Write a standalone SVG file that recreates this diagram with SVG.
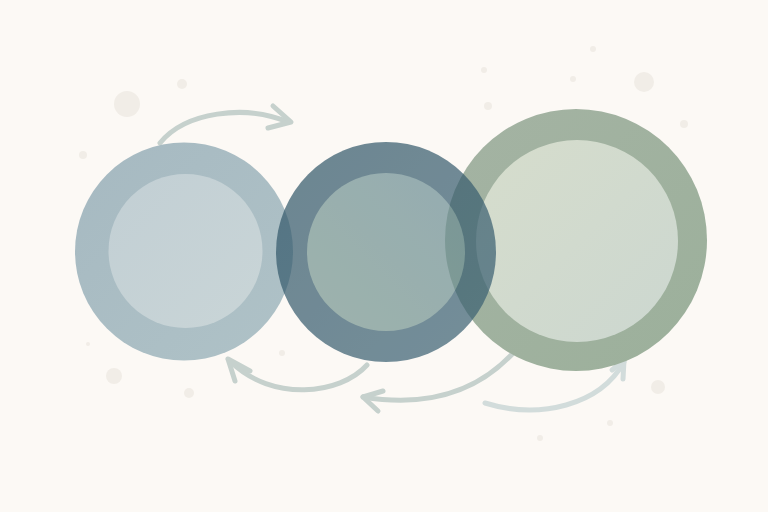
<svg xmlns="http://www.w3.org/2000/svg" width="768" height="512" viewBox="0 0 768 512">
  <defs>
    <linearGradient id="g1o" x1="0" y1="0" x2="1" y2="1">
      <stop offset="0" stop-color="#a6b9c1"/>
      <stop offset="1" stop-color="#afc2c7"/>
    </linearGradient>
    <linearGradient id="g1i" x1="0" y1="0" x2="1" y2="1">
      <stop offset="0" stop-color="#c2cfd4"/>
      <stop offset="1" stop-color="#c9d5d7"/>
    </linearGradient>
    <linearGradient id="g2o" x1="0" y1="0" x2="1" y2="1">
      <stop offset="0" stop-color="#305567"/>
      <stop offset="1" stop-color="#3c6274"/>
    </linearGradient>
    <linearGradient id="g2i" x1="1" y1="0" x2="0" y2="1">
      <stop offset="0" stop-color="#6a8c94"/>
      <stop offset="1" stop-color="#76968e"/>
    </linearGradient>
    <linearGradient id="g3o" x1="0" y1="0" x2="1" y2="1">
      <stop offset="0" stop-color="#a4b3a3"/>
      <stop offset="1" stop-color="#9cb09b"/>
    </linearGradient>
    <linearGradient id="g3i" x1="0" y1="0" x2="1" y2="1">
      <stop offset="0" stop-color="#d6ddcc"/>
      <stop offset="1" stop-color="#ccd7d0"/>
    </linearGradient>
  </defs>
  <style>
    .dot { fill: #f1ede7; }
    .arr { fill: none; stroke: #c6d1cd; stroke-width: 5; stroke-linecap: round; stroke-linejoin: round; }
    .arr.light { stroke: #d2dcdb; }
  </style>
  <rect width="768" height="512" fill="#fcf9f5"/>
  <g id="dots">
    <circle class="dot" cx="127" cy="104" r="13"/>
    <circle class="dot" cx="182" cy="84" r="5"/>
    <circle class="dot" cx="83" cy="155" r="4"/>
    <circle class="dot" cx="88" cy="344" r="2"/>
    <circle class="dot" cx="114" cy="376" r="8"/>
    <circle class="dot" cx="189" cy="393" r="5"/>
    <circle class="dot" cx="282" cy="353" r="3"/>
    <circle class="dot" cx="484" cy="70" r="3"/>
    <circle class="dot" cx="573" cy="79" r="3"/>
    <circle class="dot" cx="488" cy="106" r="4"/>
    <circle class="dot" cx="593" cy="49" r="3"/>
    <circle class="dot" cx="644" cy="82" r="10"/>
    <circle class="dot" cx="684" cy="124" r="4"/>
    <circle class="dot" cx="658" cy="387" r="7"/>
    <circle class="dot" cx="610" cy="423" r="3"/>
    <circle class="dot" cx="540" cy="438" r="3"/>
  </g>
  <g id="connectors">
    <path class="arr" d="M160,143 C185,112 245,104 288,122"/>
    <path class="arr" d="M273,106 L291,122 L268,128"/>
    <path class="arr" d="M367,365 C340,395 272,402 231,362"/>
    <path class="arr" d="M228,359 L250,371 M228,359 L235,381"/>
    <path class="arr" d="M515,351 C480,390 430,408 363,397"/>
    <path class="arr" d="M363,397 L383,391 M363,397 L378,411"/>
    <path class="arr light" d="M485,403 C540,420 600,405 624,362"/>
    <path class="arr light" d="M624,360 L612,370 M624,360 L623,379"/>
  </g>
  <g id="node1">
    <circle cx="184" cy="251.5" r="109" fill="url(#g1o)"/>
    <circle cx="185.5" cy="251" r="77" fill="url(#g1i)"/>
  </g>
  <g id="node3">
    <circle cx="576" cy="240" r="131" fill="url(#g3o)"/>
    <circle cx="577" cy="241" r="101" fill="url(#g3i)"/>
  </g>
  <g id="node2" opacity="0.7">
    <circle cx="386" cy="252" r="110" fill="url(#g2o)"/>
    <circle cx="386" cy="252" r="79" fill="url(#g2i)"/>
  </g>
</svg>
